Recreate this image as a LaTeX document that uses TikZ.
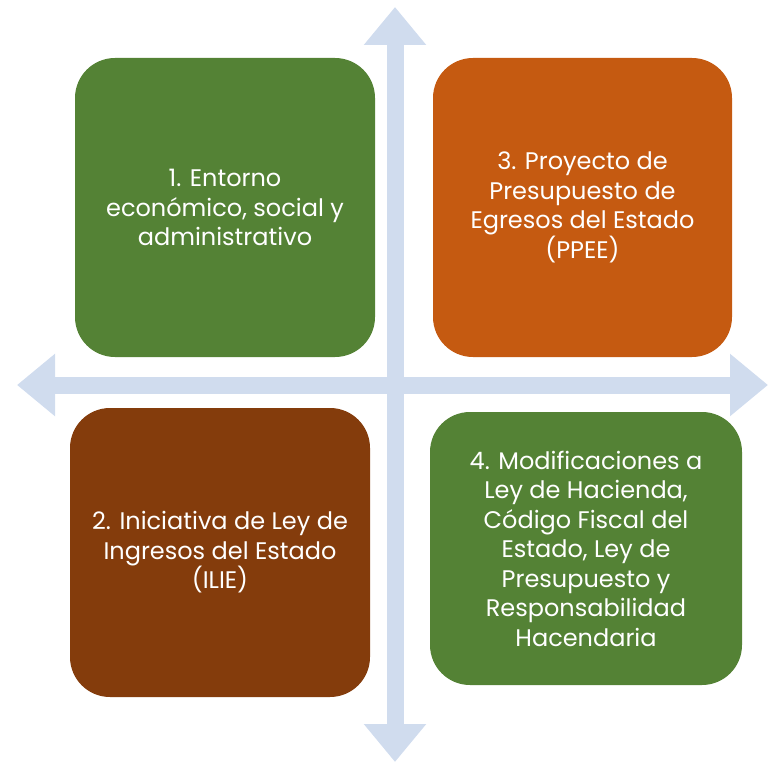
\documentclass[tikz,border=0pt]{standalone}
\usepackage{fontspec}
\usepackage{xcolor}
\usepackage{tikz}
\usetikzlibrary{arrows.meta}
\setmainfont{Poppins}
\definecolor{verde}{HTML}{548235}
\definecolor{naranja}{HTML}{C55A11}
\definecolor{cafe}{HTML}{843C0C}
\definecolor{ejeazul}{HTML}{D0DCEE}
\newcommand{\caja}[5]{\node[caja, fill=#2, minimum width=#3pt, minimum height=#4pt] (#1) at (#5)}

\begin{document}
\begin{tikzpicture}[x=1pt,y=-1pt,
    caja/.style={rectangle, rounded corners=40pt, text=white, align=center,
      font=\fontsize{24}{29.5}\selectfont, inner sep=0pt},
    eje/.style={line width=17pt, ejeazul,
      {Triangle[width=60pt,length=38pt]}-{Triangle[width=60pt,length=38pt]}}]
    \useasboundingbox (0,0) rectangle (768,762);

    % ejes
    \coordinate (arriba) at (395,7);
    \coordinate (abajo) at (395,762);
    \coordinate (izq) at (17,385);
    \coordinate (der) at (768,385);
    \draw[eje] (abajo) -- (arriba);
    \draw[eje] (izq) -- (der);

    % cuadrantes
    \caja{entorno}{verde}{300}{299}{225,207.5} {1. Entorno\\econ\'omico, social y\\administrativo};
    \caja{ppee}{naranja}{299}{299}{582.5,207.5} {3. Proyecto de\\Presupuesto de\\Egresos del Estado\\(PPEE)};
    \caja{ilie}{cafe}{300}{289}{220,552.5} {2. Iniciativa de Ley de\\Ingresos del Estado\\(ILIE)};
    \caja{modif}{verde}{312}{273}{586,548.5} {4. Modificaciones a\\Ley de Hacienda,\\C\'odigo Fiscal del\\Estado, Ley de\\Presupuesto y\\Responsabilidad\\Hacendaria};
  \end{tikzpicture}
\end{document}
